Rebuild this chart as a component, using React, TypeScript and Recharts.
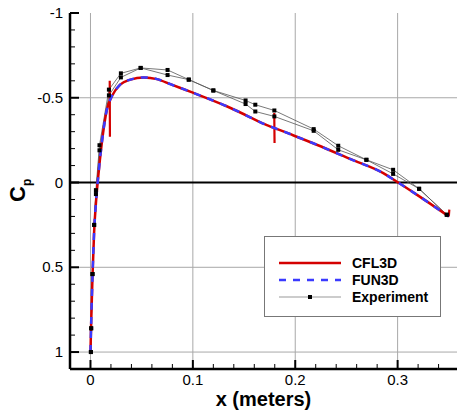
import {
  LineChart,
  Line,
  XAxis,
  YAxis,
  CartesianGrid,
  ReferenceLine,
  Legend,
} from "recharts";

// #region Data
// smooth surface curve shared by both solvers
const cfdX = [
  0, 0.0008, 0.002, 0.0035, 0.0056, 0.0075, 0.011, 0.016, 0.021, 0.029, 0.039,
  0.052, 0.065, 0.078, 0.1, 0.133, 0.156, 0.166, 0.189, 0.221, 0.254, 0.286,
  0.3005, 0.319, 0.35,
];
const cfdCp = [
  1.0, 0.8, 0.55, 0.3, 0.1, -0.03, -0.23, -0.43, -0.51, -0.577, -0.607, -0.62,
  -0.61, -0.58, -0.53, -0.45, -0.385, -0.355, -0.3, -0.223, -0.138, -0.055, 0.0,
  0.073, 0.2,
];

// CFL3D spikes (transition / trip locations), null breaks the segments
const spikeX = [0.0188, 0.019, 0.019, 0.1795, 0.1798, 0.1798, 0.35, 0.3505];
const spikeCp = [-0.6, -0.27, null, -0.41, -0.233, null, 0.2, 0.16];

// experiment, two rows of pressure taps
const expX = [
  0.0004, 0.0007, 0.002, 0.0036, 0.0053, 0.0088, 0.018, 0.0297, 0.049, 0.0753,
  0.096, 0.12, 0.1515, 0.161, 0.1796, 0.218, 0.242, 0.2695, 0.2956, 0.321,
  0.348,
];
const expUpperCp = [
  1.0, 0.86, 0.54, 0.25, 0.045, -0.22, -0.548, -0.644, -0.676, -0.664, -0.607,
  -0.543, -0.484, -0.459, -0.425, -0.315, -0.217, -0.134, -0.075, 0.037, 0.19,
];
const expLowerCp = [
  1.0, 0.86, 0.54, 0.25, 0.068, -0.19, -0.514, -0.62, -0.676, -0.634, -0.607,
  -0.543, -0.463, -0.419, -0.39, -0.305, -0.193, -0.134, -0.051, 0.037, 0.19,
];

const xTicks = [
  0, 0.02, 0.04, 0.06, 0.08, 0.1, 0.12, 0.14, 0.16, 0.18, 0.2, 0.22, 0.24,
  0.26, 0.28, 0.3, 0.32, 0.34,
];
const yTicks = [
  -1, -0.9, -0.8, -0.7, -0.6, -0.5, -0.4, -0.3, -0.2, -0.1, 0, 0.1, 0.2, 0.3,
  0.4, 0.5, 0.6, 0.7, 0.8, 0.9, 1,
];
const xMajor = [0, 0.1, 0.2, 0.3];
const yMajor = [-1, -0.5, 0, 0.5, 1];
// #endregion

const zip = (xs: number[], ys: (number | null)[]) =>
  xs.map((x, i) => ({ x, cp: ys[i] }));

const cfdCurve = zip(cfdX, cfdCp);
const cfl3dSpikes = zip(spikeX, spikeCp);
const expUpper = zip(expX, expUpperCp);
const expLower = zip(expX, expLowerCp);

const FONT = '"Liberation Sans", Arial, Helvetica, sans-serif';
const RED = "#d40000";
const BLUE = "#3a3aff";

const isMajor = (v: number, list: number[]) =>
  list.some((m) => Math.abs(m - v) < 1e-9);

const XTick = (props: any) => {
  const { x, y, payload } = props;
  const major = isMajor(payload.value, xMajor);
  return (
    <g>
      <line
        x1={x}
        y1={y}
        x2={x}
        y2={y - (major ? 9 : 5)}
        stroke="#000"
        strokeWidth={major ? 2 : 1}
      />
      {major && (
        <text x={x} y={y + 16} textAnchor="middle" fontSize={15} fontFamily={FONT} fill="#000">
          {String(payload.value)}
        </text>
      )}
    </g>
  );
};

const YTick = (props: any) => {
  const { x, y, payload } = props;
  const major = isMajor(payload.value, yMajor);
  return (
    <g>
      <line
        x1={x}
        y1={y}
        x2={x + (major ? 9 : 5)}
        y2={y}
        stroke="#000"
        strokeWidth={major ? 2 : 1}
      />
      {major && (
        <text x={x - 7} y={y + 5} textAnchor="end" fontSize={15} fontFamily={FONT} fill="#000">
          {String(payload.value)}
        </text>
      )}
    </g>
  );
};

const XLabel = (props: any) => {
  const { viewBox } = props;
  const cx = viewBox.x + viewBox.width / 2;
  return (
    <text x={cx} y={viewBox.y + 37} textAnchor="middle" fontSize={20} fontWeight="bold" fontFamily={FONT} fill="#000">
      x (meters)
    </text>
  );
};

const YLabel = (props: any) => {
  const { viewBox } = props;
  const bx = viewBox.x + 25;
  const by = viewBox.y + viewBox.height / 2 + 11;
  return (
    <text
      x={bx}
      y={by}
      transform={`rotate(-90, ${bx}, ${by})`}
      fontSize={22}
      fontWeight="bold"
      fontFamily={FONT}
      fill="#000"
    >
      C
      <tspan fontSize={12} dy={6}>
        p
      </tspan>
    </text>
  );
};

const legendRows = [
  { name: "CFL3D", stroke: RED, dash: undefined, marker: false },
  { name: "FUN3D", stroke: BLUE, dash: "7 7", marker: false },
  { name: "Experiment", stroke: "#bbbbbb", dash: undefined, marker: true },
];

const LegendBox = () => (
  <svg width={177} height={81} style={{ display: "block" }}>
    <rect x={0.5} y={0.5} width={176} height={80} fill="#fff" stroke="#777" />
    {legendRows.map((r, i) => {
      const yy = 27 + i * 17;
      return (
        <g key={r.name}>
          <line
            x1={15}
            y1={yy}
            x2={77}
            y2={yy}
            stroke={r.stroke}
            strokeWidth={r.marker ? 1.5 : 2.5}
            strokeDasharray={r.dash}
          />
          {r.marker && <rect x={44} y={yy - 2} width={4} height={4} fill="#000" />}
          <text x={88} y={yy + 5} fontSize={14} fontWeight="bold" fontFamily={FONT} fill="#000">
            {r.name}
          </text>
        </g>
      );
    })}
  </svg>
);

const squareDot = (props: any) => {
  const { cx, cy, index } = props;
  return <rect key={`d${index}`} x={cx - 2} y={cy - 2} width={4} height={4} fill="#000" />;
};

export default function App() {
  return (
    <div style={{ position: "absolute", left: 0, top: 0 }}>
      <LineChart
        width={457}
        height={414}
        margin={{ top: 13, right: 0, bottom: 0, left: 0 }}
        style={{ fontFamily: FONT }}
      >
        <CartesianGrid
          stroke="#a8a8a8"
          strokeWidth={1}
          verticalValues={xMajor}
          horizontalValues={[-0.5, 0.5, 1]}
        />
        <XAxis
          type="number"
          dataKey="x"
          domain={[-0.02, 0.358]}
          allowDataOverflow
          ticks={xTicks}
          interval={0}
          tickLine={false}
          tickSize={0}
          tickMargin={0}
          tick={<XTick />}
          axisLine={{ stroke: "#000", strokeWidth: 2.5 }}
          height={45}
          label={{ content: <XLabel /> }}
        />
        <YAxis
          type="number"
          reversed
          domain={[-1, 1.1]}
          allowDataOverflow
          ticks={yTicks}
          interval={0}
          tickLine={false}
          tickSize={0}
          tickMargin={0}
          tick={<YTick />}
          axisLine={{ stroke: "#000", strokeWidth: 2.5 }}
          width={70}
          label={{ content: <YLabel /> }}
        />
        <ReferenceLine y={0} stroke="#000" strokeWidth={2} />
        <Legend
          layout="vertical"
          align="center"
          verticalAlign="middle"
          content={<LegendBox />}
          wrapperStyle={{ left: 264, top: 236, width: 177, height: 81 }}
        />
        <Line
          data={expUpper}
          dataKey="cp"
          name="Experiment"
          type="linear"
          stroke="#555"
          strokeWidth={0.8}
          dot={squareDot}
          activeDot={false}
          isAnimationActive={false}
        />
        <Line
          data={expLower}
          dataKey="cp"
          name="Experiment lower"
          legendType="none"
          type="linear"
          stroke="#555"
          strokeWidth={0.8}
          dot={squareDot}
          activeDot={false}
          isAnimationActive={false}
        />
        <Line
          data={cfl3dSpikes}
          dataKey="cp"
          name="CFL3D spikes"
          legendType="none"
          type="linear"
          stroke={RED}
          strokeWidth={2.2}
          dot={false}
          activeDot={false}
          isAnimationActive={false}
        />
        <Line
          data={cfdCurve}
          dataKey="cp"
          name="CFL3D"
          type="monotoneX"
          stroke={RED}
          strokeWidth={2.5}
          dot={false}
          activeDot={false}
          isAnimationActive={false}
        />
        <Line
          data={cfdCurve}
          dataKey="cp"
          name="FUN3D"
          type="monotoneX"
          stroke={BLUE}
          strokeWidth={2.5}
          strokeDasharray="7 7"
          dot={false}
          activeDot={false}
          isAnimationActive={false}
        />
      </LineChart>
    </div>
  );
}
